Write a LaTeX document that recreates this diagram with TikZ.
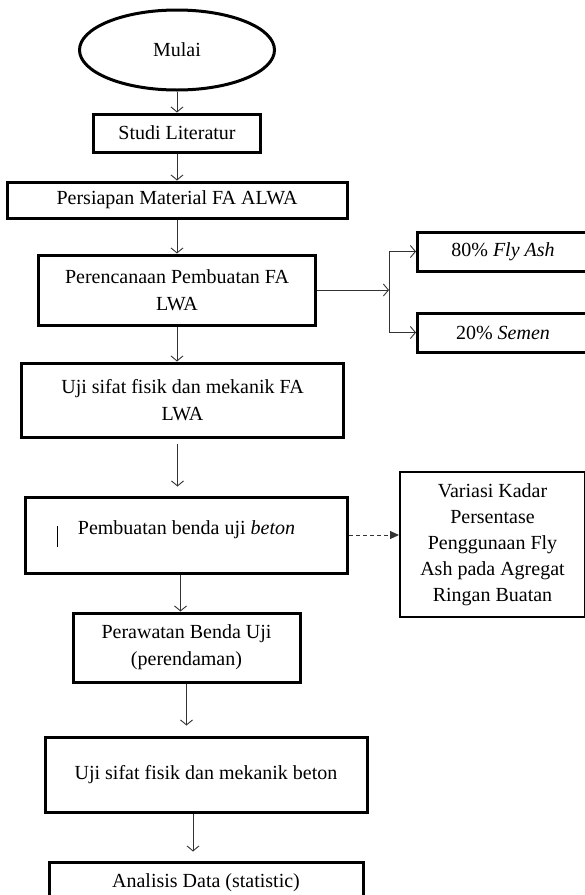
\documentclass[tikz,border=0pt]{standalone}
\usepackage{fontspec}
\setmainfont{Liberation Serif}
\usetikzlibrary{shapes.geometric, positioning, arrows.meta}

\begin{document}
\begin{tikzpicture}[node distance = 30pt, font=\fontsize{20}{27}\selectfont]
    \useasboundingbox (0,0) rectangle (585pt,-895pt);
    \clip (0,0) rectangle (585pt,-895pt);

    \begin{scope}[every node/.style={rectangle,draw,line width=3pt,align=center,inner sep=2pt}]
        \node (mulai) [ellipse, minimum width=195pt, minimum height=80pt] at (177pt,-50pt) {Mulai};
        \node (studi) [below = 21pt of mulai, minimum width=167pt, minimum height=38pt] {Studi Literatur};
        \node (persiapan) [below = 27pt of studi, minimum width=340pt, minimum height=36pt] {Persiapan Material FA ALWA};
        \node (rencana) [below = 34pt of persiapan, minimum width=277pt, minimum height=70pt] {Perencanaan Pembuatan FA\\LWA};
        \node (ujifa) [below = 35pt of rencana, xshift=5.5pt, minimum width=322pt, minimum height=74pt] {Uji sifat fisik dan mekanik FA\\LWA};
        \node (pembuatan) [below = 57pt of ujifa, xshift=4pt, minimum width=322pt, minimum height=76pt, text depth=14pt] {Pembuatan benda uji \textit{beton}};
        \node (perawatan) [below = 37pt of pembuatan, minimum width=227pt, minimum height=69pt] {Perawatan Benda Uji\\(perendaman)};
        \node (ujibeton) [below = 52pt of perawatan, xshift=19.5pt, minimum width=322pt, minimum height=75pt] {Uji sifat fisik dan mekanik beton};
        \node (analisis) [below = 47pt of ujibeton, minimum width=314pt, minimum height=42pt] {Analisis Data (statistic)};
        \node (flyash) [right = 99pt of rencana, yshift=38.5pt, minimum width=171pt, minimum height=39pt] {80\% \textit{Fly Ash}};
        \node (semen) [below = 39pt of flyash, minimum width=171pt, minimum height=39pt] {20\% \textit{Semen}};
        \node (variasi) [right = 50pt of pembuatan, yshift=-9.5pt, line width=2pt, minimum width=185pt, minimum height=145pt, font=\fontsize{20}{26}\selectfont] {Variasi Kadar\\Persentase\\Penggunaan Fly\\Ash pada Agregat\\Ringan Buatan};
    \end{scope}

    \coordinate [right = 72pt of rencana] (split);

    \begin{scope}[every edge/.style={draw=black!80,line width=0.9pt,-{Straight Barb[length=5pt,width=12pt]}}]
        \path (mulai) edge (studi);
        \path (studi) edge (persiapan);
        \path (persiapan) edge (rencana);
        \path (rencana.south) edge (rencana.south |- ujifa.north);
        \path ([xshift=-5pt]ujifa.south) edge [shorten <=5pt, shorten >=9pt] ([xshift=-5pt]ujifa.south |- pembuatan.north);
        \path ([xshift=-6pt]pembuatan.south) edge ([xshift=-6pt]pembuatan.south |- perawatan.north);
        \path (perawatan.south) edge [shorten >=10pt] (perawatan.south |- ujibeton.north);
        \path ([xshift=-13pt]ujibeton.south) edge [shorten >=9pt] ([xshift=-13pt]ujibeton.south |- analisis.north);
        \path (rencana) edge (split);
        \path (split |- flyash) edge [-] (split |- semen);
        \path (split |- flyash) edge (flyash);
        \path (split |- semen) edge (semen);
        \path (pembuatan.east) edge [dash pattern=on 4pt off 3pt, -{Triangle[length=9pt,width=8pt]}] (pembuatan.east -| variasi.west);
    \end{scope}

    \draw [line width=1pt] ([xshift=33pt,yshift=9pt]pembuatan.west) -- ++(0,-21pt);
\end{tikzpicture}
\end{document}
